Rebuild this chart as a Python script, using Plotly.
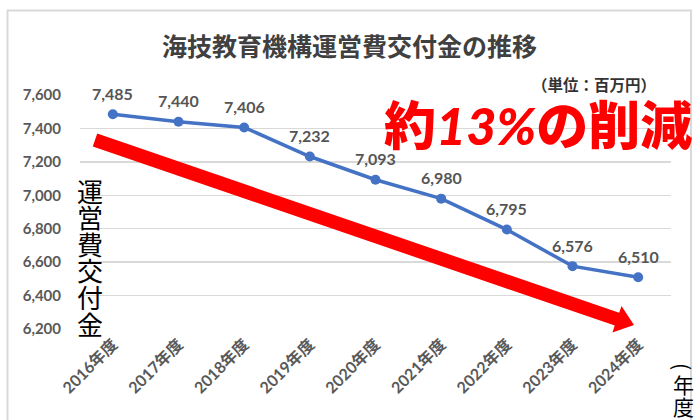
import math
import plotly.graph_objects as go

# ---- data ----
years = ["2016年度", "2017年度", "2018年度", "2019年度", "2020年度",
         "2021年度", "2022年度", "2023年度", "2024年度"]
grants = [7485, 7440, 7406, 7232, 7093, 6980, 6795, 6576, 6510]
y_ticks = [6200, 6400, 6600, 6800, 7000, 7200, 7400, 7600]
y_tick_text = ["6,200", "6,400", "6,600", "6,800", "7,000", "7,200", "7,400", "7,600"]

title_text = "海技教育機構運営費交付金の推移"
unit_text = "（単位：百万円）"
callout_text = "約<span style='font-family:Lato;font-style:italic'>13%</span>の削減"
y_title_chars = list("運営費交付金")
x_title_chars = ["(", "年", "度", ")"]

W, H = 695, 420
L, R, T, B = 80, 24, 95, 91
PW, PH = W - L - R, H - T - B


def px(x):
    return (x - L) / PW


def py(y):
    return (H - B - y) / PH


LATIN = "Lato, 'Noto Sans CJK JP', sans-serif"
CJK = "'Noto Sans CJK JP', sans-serif"

fig = go.Figure()
fig.add_trace(go.Scatter(
    x=years, y=grants, mode="lines+markers",
    line=dict(color="#4472C4", width=3.5),
    marker=dict(color="#4472C4", size=10),
    hoverinfo="skip", showlegend=False,
))

annotations = []
# data labels
for xv, yv in zip(years, grants):
    annotations.append(dict(
        x=xv, y=yv, xref="x", yref="y", text=f"{yv:,}", showarrow=False,
        yshift=21, font=dict(family=LATIN, size=16, color="#555555", weight="bold"),
    ))
# title
annotations.append(dict(
    x=px(349), y=py(45), xref="paper", yref="paper", text=title_text,
    showarrow=False, xanchor="center", yanchor="middle",
    font=dict(family=CJK, size=25, color="#404040", weight="bold"),
))
# unit
annotations.append(dict(
    x=px(594), y=py(84), xref="paper", yref="paper", text=unit_text,
    showarrow=False, xanchor="center", yanchor="middle",
    font=dict(family=CJK, size=15.5, color="#333333", weight="bold"),
))
# callout
annotations.append(dict(
    x=px(382), y=py(122), xref="paper", yref="paper", text=callout_text,
    showarrow=False, xanchor="left", yanchor="middle",
    font=dict(family=CJK, size=52, color="#FF0000", weight=900),
))
# vertical y title
for i, ch in enumerate(y_title_chars):
    annotations.append(dict(
        x=px(90), y=py(190 + 26.6 * i), xref="paper", yref="paper", text=ch,
        showarrow=False, xanchor="center", yanchor="middle",
        font=dict(family=CJK, size=26, color="#000000"),
    ))
# vertical x title (年度)
x_title_pos = [366, 384, 406, 426]
for ch, yy in zip(x_title_chars, x_title_pos):
    rot = ch in ("(", ")")
    annotations.append(dict(
        x=px(683), y=py(yy), xref="paper", yref="paper", text=ch,
        showarrow=False, xanchor="center", yanchor="middle",
        textangle=90 if rot else 0,
        font=dict(family=CJK, size=21, color="#000000"),
    ))

# red arrow polygon (decoration) in pixel geometry -> paper coords
tx, ty = 95, 140
ex, ey = 634, 325
dx, dy = ex - tx, ey - ty
n = math.hypot(dx, dy)
ux, uy = dx / n, dy / n
nx, ny = -uy, ux
w, hw, hl = 6.8, 14, 18
bx, by = ex - hl * ux, ey - hl * uy
pts = [
    (tx + w * nx, ty + w * ny),
    (bx + w * nx, by + w * ny),
    (bx + hw * nx, by + hw * ny),
    (ex, ey),
    (bx - hw * nx, by - hw * ny),
    (bx - w * nx, by - w * ny),
    (tx - w * nx, ty - w * ny),
]
path = "M " + " L ".join(f"{px(a):.5f},{py(b):.5f}" for a, b in pts) + " Z"

shapes = [
    dict(type="rect", xref="paper", yref="paper",
         x0=px(7.5), x1=px(691), y0=py(440), y1=py(10.5),
         line=dict(color="#d9d9d9", width=2), fillcolor="rgba(0,0,0,0)", layer="below"),
    dict(type="path", xref="paper", yref="paper", path=path,
         fillcolor="#FF0000", line=dict(width=0), layer="above"),
]

fig.update_layout(
    width=W, height=H,
    margin=dict(l=L, r=R, t=T, b=B, autoexpand=False),
    paper_bgcolor="white", plot_bgcolor="white",
    annotations=annotations, shapes=shapes,
    xaxis=dict(
        type="category", range=[-0.5, len(years) - 0.5], showgrid=False,
        showline=False, zeroline=False, ticks="", tickangle=-45,
        ticklabelstandoff=2,
        tickfont=dict(family=LATIN, size=16, color="#595959", weight="bold"),
        automargin=False, fixedrange=True,
    ),
    yaxis=dict(
        range=[6200, 7600], tickvals=y_ticks, ticktext=y_tick_text,
        showgrid=True, gridcolor="#d9d9d9", gridwidth=1.5,
        showline=False, zeroline=False, ticks="", ticklabelstandoff=18,
        tickfont=dict(family=LATIN, size=15, color="#595959", weight="bold"),
        automargin=False, fixedrange=True,
    ),
)

fig.write_html(
    "out.html",
    config={"displayModeBar": False, "staticPlot": True},
    post_script="document.body.style.margin='0';document.body.style.overflow='hidden';",
)
